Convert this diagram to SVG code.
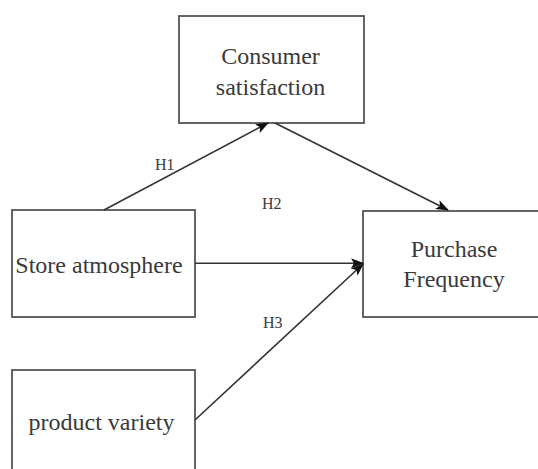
<svg xmlns="http://www.w3.org/2000/svg" width="538" height="469" viewBox="0 0 538 469">
<style>
.box{fill:#fff;stroke:#555;stroke-width:1.8}
.lbl{font-family:"Liberation Serif","Times New Roman",serif;font-size:24px;fill:#3a3a3a;text-anchor:middle}
.h{font-family:"Liberation Serif","Times New Roman",serif;font-size:16px;fill:#3a3a3a}
.edge{stroke:#333;stroke-width:1.6;fill:none;marker-end:url(#arr)}
</style>
<defs>
<marker id="arr" markerUnits="userSpaceOnUse" markerWidth="14" markerHeight="12" refX="12" refY="5" orient="auto" viewBox="0 0 14 10">
<path d="M0,0 L13,5 L0,10 L3,5 Z" fill="#111"/>
</marker>
</defs>
<rect width="538" height="469" fill="#fff"/>
<g id="consumer-satisfaction">
<rect class="box" x="179" y="16" width="185" height="107"/>
<text class="lbl" x="270.5" y="64">Consumer</text>
<text class="lbl" x="270.5" y="95">satisfaction</text>
</g>
<g id="store-atmosphere">
<rect class="box" x="12" y="210" width="183" height="107"/>
<text class="lbl" x="99" y="273">Store atmosphere</text>
</g>
<g id="purchase-frequency">
<rect class="box" x="363" y="211" width="184" height="106"/>
<text class="lbl" x="454" y="257">Purchase</text>
<text class="lbl" x="454" y="287">Frequency</text>
</g>
<g id="product-variety">
<rect class="box" x="12" y="370" width="183" height="107"/>
<text class="lbl" x="101.5" y="430">product variety</text>
</g>
<g id="connectors">
<line class="edge" x1="104" y1="210" x2="268" y2="123"/>
<line class="edge" x1="275" y1="123" x2="448" y2="210"/>
<line class="edge" x1="195" y1="263.3" x2="363" y2="263.3"/>
<line class="edge" x1="195" y1="420" x2="363" y2="264"/>
<text class="h" x="155" y="170">H1</text>
<text class="h" x="262" y="209">H2</text>
<text class="h" x="263" y="328">H3</text>
</g>
</svg>
